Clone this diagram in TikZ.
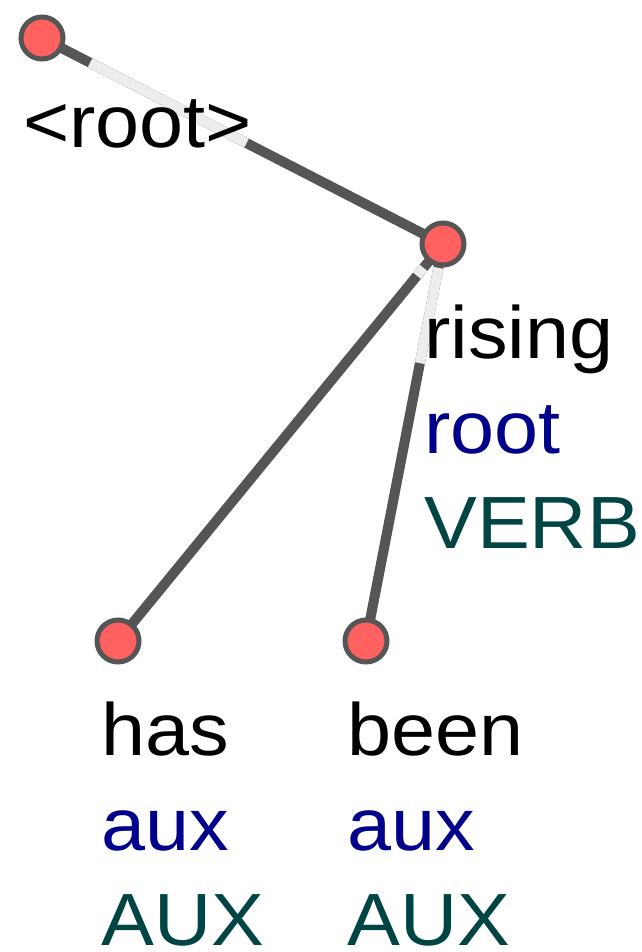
\documentclass[tikz,border=0pt]{standalone}
\usepackage{fontspec}
\setmainfont{Liberation Sans}[FakeStretch=1.07]
\usetikzlibrary{calc,backgrounds}

\definecolor{tokred}{RGB}{255,96,96}
\definecolor{edgegray}{RGB}{85,85,85}
\definecolor{relblue}{RGB}{0,0,139}
\definecolor{posteal}{RGB}{0,68,68}

\tikzset{
  tok/.style={circle, draw=edgegray, line width=5pt, fill=tokred, minimum size=42pt, inner sep=0pt},
  edge/.style={draw=edgegray, line width=10pt},
  halo/.style={draw=gray!14, line width=10pt},
  word/.style={anchor=base west, inner sep=0pt, font=\fontsize{74}{80}\selectfont},
}

\begin{document}
\begin{tikzpicture}[x=1pt, y=-1pt]
  \useasboundingbox (0,0) rectangle (641,952);

  % tokens
  \node[tok] (root) at (42,38) {};
  \node[tok] (rising) at (443,244) {};
  \node[tok] (has) at (118,641) {};
  \node[tok] (been) at (366,641) {};

  % arcs
  \begin{pgfonlayer}{background}
    \draw[edge] (root.center) -- (rising.center);
    \draw[edge] (rising.center) -- (has.center);
    \draw[edge] (rising.center) -- (been.center);
    \draw[halo] ($(root)!0.12!(rising)$) -- ($(root)!0.51!(rising)$);
    \draw[halo] ($(rising)!0.06!(been)$) -- ($(rising)!0.30!(been)$);
    \draw[halo] ($(rising)!0.06!(has)$) -- ($(rising)!0.08!(has)$);
  \end{pgfonlayer}

  % labels
  \node[word] (rootw) at (23,148) {<root>};

  \node[word] (risingw) at (424,358) {rising};
  \node[word, text=relblue] (risingr) at (424,453) {root};
  \node[word, text=posteal] (risingp) at (424,548) {VERB};

  \node[word] (hasw) at (101,755) {has};
  \node[word, text=relblue] (hasr) at (101,850) {aux};
  \node[word, text=posteal] (hasp) at (101,945) {AUX};

  \node[word] (beenw) at (347,755) {been};
  \node[word, text=relblue] (beenr) at (347,850) {aux};
  \node[word, text=posteal] (beenp) at (347,945) {AUX};
\end{tikzpicture}
\end{document}
